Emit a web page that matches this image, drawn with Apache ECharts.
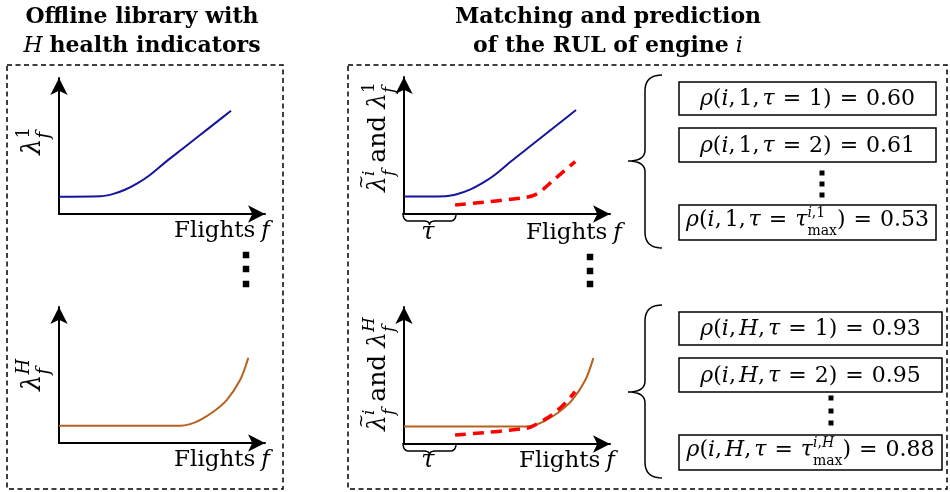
<!DOCTYPE html>
<html>
<head>
<meta charset="utf-8">
<script src="https://cdn.jsdelivr.net/npm/echarts@6/dist/echarts.min.js"></script>
<style>
  html, body { margin: 0; background: #fff; }
  #chart { width: 950px; height: 492px; }
</style>
</head>
<body>
<div id="chart"></div>
<script>
// health indicator curves, axis units 0..100 on both axes
const hi1Curve = [[0, 12.7], [20, 13], [26, 14.6], [32, 17.8], [38, 22.5], [44, 28.5], [52, 38.5], [60, 48], [68, 57.5], [76, 67], [83.5, 75.9]];
const hiHCurve = [[0, 12.7], [58.7, 12.7], [63.6, 13.9], [68.4, 16.9], [74.9, 23], [81.4, 31.6], [87.9, 46.3], [91.9, 62.7]];
// engine i, shifted by tau
const engineVs1 = [[24.8, 6.6], [59.5, 12.2], [65.1, 15.1], [69.9, 21.2], [76.4, 29.7], [83.1, 38.2]];
const engineVsH = [[24.8, 6.6], [59.5, 11.5], [65.1, 15.1], [71.7, 21.2], [78.2, 29.7], [83, 38.2]];
const tauShift = 24.8;
// correlation boxes
const tauSteps = ['1', '2', 'max'];
const rho1 = ['0.60', '0.61', '0.53'];
const rhoH = ['0.93', '0.95', '0.88'];

const BLUE = '#15159c';
const ORANGE = '#b5621e';
const RED = '#ff0000';
const FAMILY = '"DejaVu Serif"';

const chart = echarts.init(document.getElementById('chart'));

const grids = [
  { left: 59, top: 78, width: 206, height: 136 },
  { left: 59, top: 307, width: 206, height: 136 },
  { left: 404, top: 77, width: 206, height: 137 },
  { left: 404, top: 307, width: 206, height: 137 }
];

function axis(i) {
  return {
    gridIndex: i, type: 'value', min: 0, max: 100,
    axisLine: {
      show: true, onZero: false,
      symbol: ['none', 'arrow'], symbolSize: [13, 17],
      lineStyle: { color: '#000', width: 2 }
    },
    axisTick: { show: false }, axisLabel: { show: false }, splitLine: { show: false }
  };
}

function line(i, data, color, width, dashed) {
  return {
    type: 'line', xAxisIndex: i, yAxisIndex: i, data: data,
    smooth: 0.35, symbol: 'none', silent: true,
    lineStyle: { color: color, width: width, type: dashed ? [11, 7] : 'solid' }
  };
}

chart.setOption({
  animation: false,
  grid: grids,
  xAxis: grids.map((g, i) => axis(i)),
  yAxis: grids.map((g, i) => axis(i)),
  series: [
    line(0, hi1Curve, BLUE, 2),
    line(1, hiHCurve, ORANGE, 2),
    line(2, hi1Curve, BLUE, 2),
    line(2, engineVs1, RED, 3.5, true),
    line(3, hiHCurve, ORANGE, 2),
    line(3, engineVsH, RED, 3.5, true)
  ]
});

// ---- text layout helpers (sub/superscripts) ----
const ctx = document.createElement('canvas').getContext('2d');
function font(size, it, b) {
  return (it ? 'italic ' : '') + (b ? 'bold ' : '') + size + 'px ' + FAMILY;
}
function measure(t, size, it, b) {
  ctx.font = font(size, it, b);
  return ctx.measureText(t).width;
}
function layout(tokens, size) {
  let x = 0;
  const out = [];
  tokens.forEach(tk => {
    if (tk.gap != null) { x += tk.gap; return; }
    if (tk.sup || tk.sub) {
      let w = 0;
      [['sup', tk.supDy != null ? tk.supDy : -0.32 * size], ['sub', tk.subDy != null ? tk.subDy : 0.45 * size]].forEach(([k, dy]) => {
        if (!tk[k]) return;
        const s = tk.s || Math.round(size * 0.68);
        let sx = x;
        tk[k].forEach(p => {
          out.push({ text: p.t, x: sx, dy: dy, size: s, it: p.it });
          sx += measure(p.t, s, p.it);
        });
        w = Math.max(w, sx - x);
      });
      x += w;
      return;
    }
    const s = tk.s || size;
    out.push({ text: tk.t, x: x + (tk.dx || 0), dy: tk.dy || 0, size: s, it: tk.it, b: tk.b });
    if (!tk.over) x += measure(tk.t, s, tk.it, tk.b);
  });
  return { items: out, width: x };
}
function mathText(tokens, size, cx, cy, rot) {
  const L = layout(tokens, size);
  return {
    type: 'group', x: cx, y: cy, rotation: rot || 0, silent: true,
    children: L.items.map(it => ({
      type: 'text', x: it.x - L.width / 2, y: it.dy,
      style: {
        text: it.text, font: font(it.size, it.it, it.b), fill: '#000',
        textAlign: 'left', textVerticalAlign: 'middle', align: 'left', verticalAlign: 'middle'
      }
    }))
  };
}

const V = Math.PI / 2;
const flights = [{ t: 'Flights' }, { gap: 6 }, { t: 'f', it: 1 }];
function lam(sup) {
  return [{ t: 'λ', it: 1 }, { sup: sup, sub: [{ t: 'f', it: 1 }] }];
}
const EQ = 8;
function rhoTokens(hi, tau, val) {
  const hiTok = hi === 'H' ? { t: 'H', it: 1 } : { t: hi };
  const t = [{ t: 'ρ', it: 1 }, { t: '(' }, { t: 'i', it: 1 }, { t: ',' }, { gap: 3 }, hiTok, { t: ',' }, { gap: 3 },
    { t: 'τ', it: 1 }, { gap: EQ }, { t: '=' }, { gap: EQ }];
  if (tau === 'max') {
    t.push({ t: 'τ', it: 1 }, {
      sup: [{ t: 'i', it: 1 }, { t: ',' }, hi === 'H' ? { t: 'H', it: 1 } : { t: hi }],
      sub: [{ t: 'max' }], supDy: -7, subDy: 11, s: 14
    });
  } else {
    t.push({ t: tau });
  }
  t.push({ t: ')' }, { gap: EQ }, { t: '=' }, { gap: EQ }, { t: val });
  return t;
}

function dashedRect(x1, y1, x2, y2) {
  return {
    type: 'rect', silent: true, shape: { x: x1, y: y1, width: x2 - x1, height: y2 - y1 },
    style: { fill: 'none', stroke: '#000', lineWidth: 1.5, lineDash: [5, 3.5] }
  };
}
function box(x1, y1, x2, y2) {
  return {
    type: 'rect', silent: true, shape: { x: x1, y: y1, width: x2 - x1, height: y2 - y1 },
    style: { fill: 'none', stroke: '#000', lineWidth: 1.5 }
  };
}
function dots(x, ys, s) {
  return ys.map(y => ({ type: 'rect', silent: true, shape: { x: x - s / 2, y: y - s / 2, width: s, height: s }, style: { fill: '#000' } }));
}
// polyline through straight pieces and quadratic bends: segs = [[ctrl, end], ...] or [end]
function curvePoints(start, segs) {
  const pts = [start];
  let p = start;
  segs.forEach(s => {
    if (s.length === 2 && Array.isArray(s[0])) {
      const [c, e] = s;
      for (let k = 1; k <= 10; k++) {
        const t = k / 10, u = 1 - t;
        pts.push([u * u * p[0] + 2 * u * t * c[0] + t * t * e[0], u * u * p[1] + 2 * u * t * c[1] + t * t * e[1]]);
      }
      p = e;
    } else {
      pts.push(s);
      p = s;
    }
  });
  return { type: 'polyline', silent: true, shape: { points: pts }, style: { fill: 'none', stroke: '#000', lineWidth: 1.5 } };
}
// small brace under the x axis spanning 0..tau
function tauBrace(gi) {
  const a = chart.convertToPixel({ gridIndex: gi }, [0, 0]);
  const b = chart.convertToPixel({ gridIndex: gi }, [tauShift, 0]);
  const x0 = a[0] - 1, x1 = b[0] + 1, y0 = a[1] - 1, h = 8, r = 6, m = (x0 + x1) / 2;
  return curvePoints([x0, y0], [
    [[x0, y0 + h], [x0 + r, y0 + h]], [m - r, y0 + h], [[m, y0 + h], [m, y0 + h + 4]],
    [[m, y0 + h], [m + r, y0 + h]], [x1 - r, y0 + h], [[x1, y0 + h], [x1, y0]]
  ]);
}
function bigBrace(xR, xm, xt, yT, yM, yB) {
  return curvePoints([xR, yT], [
    [[xm, yT], [xm, yT + 16]], [xm, yM - 11], [[xm, yM], [xt, yM]],
    [[xm, yM], [xm, yM + 11]], [xm, yB - 16], [[xm, yB], [xR, yB]]
  ]);
}

const graphics = [
  dashedRect(7, 65, 283, 489),
  dashedRect(348, 65, 947, 489),
  mathText([{ t: 'Offline library with', b: 1 }], 22, 142, 17),
  mathText([{ t: 'H', it: 1 }, { gap: 7 }, { t: 'health indicators', b: 1 }], 22, 142, 46),
  mathText([{ t: 'Matching and prediction', b: 1 }], 22, 608, 17),
  mathText([{ t: 'of the RUL of engine', b: 1 }, { gap: 7 }, { t: 'i', it: 1 }], 22, 608, 46),
  mathText(flights, 23, 222, 231),
  mathText(flights, 23, 222, 460),
  mathText(flights, 23, 574, 233),
  mathText(flights, 23, 567, 461),
  mathText(lam([{ t: '1' }]), 26, 33, 141, V),
  mathText(lam([{ t: 'H', it: 1 }]), 26, 33, 375, V),
  mathText([{ t: '~', s: 17, dy: -16, dx: 3, over: 1 }].concat(lam([{ t: 'i', it: 1 }]), [{ gap: 7 }, { t: 'and' }, { gap: 7 }], lam([{ t: '1' }])), 25, 378, 137, V),
  mathText([{ t: '~', s: 17, dy: -16, dx: 3, over: 1 }].concat(lam([{ t: 'i', it: 1 }]), [{ gap: 7 }, { t: 'and' }, { gap: 7 }], lam([{ t: 'H', it: 1 }])), 25, 378, 374, V),
  tauBrace(2),
  tauBrace(3),
  mathText([{ t: 'τ', it: 1 }], 24, 428, 233),
  mathText([{ t: 'τ', it: 1 }], 24, 428, 461),
  bigBrace(662, 645, 628, 75, 161, 248),
  bigBrace(662, 645, 628, 305, 392, 478)
].concat(dots(246, [255, 269, 284], 6.5), dots(590, [257, 271, 284], 6.5),
  dots(822, [173, 184, 195], 5), dots(831, [398, 411, 423], 5));

const topBoxes = [[82, 115], [128, 162], [205, 240]];
const botBoxes = [[312, 345], [358, 392], [435, 470]];
tauSteps.forEach((tau, k) => {
  const [a1, b1] = topBoxes[k];
  graphics.push(box(679, a1, 936, b1));
  graphics.push(mathText(rhoTokens('1', tau, rho1[k]), 22, 807.5, (a1 + b1) / 2 + (tau === 'max' ? -2 : 1)));
  const [a2, b2] = botBoxes[k];
  graphics.push(box(679, a2, 942, b2));
  graphics.push(mathText(rhoTokens('H', tau, rhoH[k]), 22, 810.5, (a2 + b2) / 2 + (tau === 'max' ? -2 : 1)));
});

chart.setOption({ graphic: { elements: graphics } });
</script>
</body>
</html>
